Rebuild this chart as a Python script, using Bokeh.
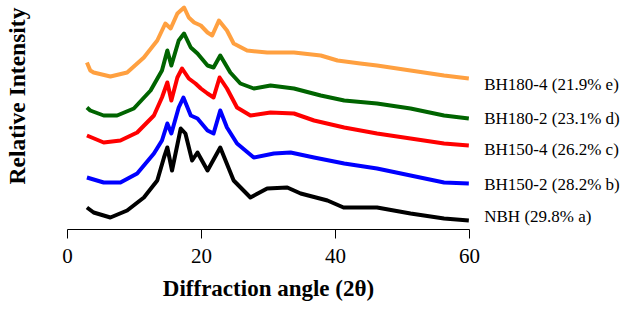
import math
from bokeh.plotting import figure
from bokeh.models import Range1d, FixedTicker, LinearAxis
from bokeh.core.properties import value
from bokeh.embed import file_html
from bokeh.resources import INLINE

# Diffraction angle (2θ) sample points and stacked relative intensities (arbitrary units, offset included)
x_e = [2.9, 3.4, 3.9, 6.4, 8.9, 11.4, 13.4, 14.6, 15.4, 16.4, 17.4, 18.1, 18.9, 19.9, 20.9, 21.6, 22.6, 23.8, 24.8, 26.8, 29.8, 33.8, 37.8, 40.3, 43.7, 46.2, 51.2, 56.2, 59.9]
y_e = [167, 159, 157, 153, 157, 172, 189, 206, 201, 216, 222, 212, 207, 204, 197, 194, 209, 199, 186, 179, 177, 177, 174, 169, 166, 164, 159, 154, 151]

x_d = [2.9, 3.4, 5.4, 7.4, 9.9, 12.4, 14.1, 14.9, 15.5, 16.6, 17.4, 18.4, 19.4, 20.9, 21.8, 22.8, 24.3, 25.8, 27.8, 30.3, 33.8, 37.8, 41.3, 46.2, 51.2, 56.2, 59.9]
y_d = [122, 119, 114, 114, 121, 139, 159, 179, 164, 189, 196, 182, 176, 164, 162, 174, 157, 146, 141, 144, 141, 134, 129, 126, 121, 114, 111]

x_c = [2.9, 5.4, 7.9, 10.4, 12.9, 14.1, 14.9, 15.5, 16.4, 17.1, 18.1, 19.1, 19.9, 20.9, 21.8, 22.7, 23.8, 25.3, 27.3, 30.3, 33.8, 36.8, 41.3, 46.2, 51.2, 56.2, 59.9]
y_c = [94, 87, 89, 97, 114, 132, 147, 129, 152, 161, 151, 146, 141, 136, 132, 152, 141, 122, 114, 117, 116, 109, 102, 96, 91, 86, 84]

x_b = [2.9, 5.4, 7.9, 10.4, 12.9, 14.1, 14.9, 15.5, 16.6, 17.3, 18.4, 19.4, 20.9, 21.8, 22.8, 23.8, 25.3, 27.8, 30.8, 33.3, 36.8, 41.3, 46.2, 51.2, 56.2, 59.9]
y_b = [52, 47, 47, 56, 76, 89, 106, 96, 122, 132, 114, 111, 99, 96, 119, 102, 86, 72, 76, 77, 72, 66, 61, 54, 47, 46]

x_a = [2.9, 3.9, 6.4, 8.9, 11.4, 13.4, 14.4, 14.9, 15.6, 16.9, 17.6, 18.6, 19.4, 20.9, 22.8, 24.8, 27.3, 29.8, 32.8, 34.8, 38.8, 41.2, 46.2, 51.2, 56.2, 59.9]
y_a = [22, 17, 12, 19, 32, 49, 72, 82, 59, 101, 96, 69, 77, 59, 82, 49, 32, 41, 42, 36, 29, 22, 22, 16, 11, 9]

series_names = ["BH180-4 (21.9% e)", "BH180-2 (23.1% d)", "BH150-4 (26.2% c)", "BH150-2 (28.2% b)", "NBH (29.8% a)"]
x_ticks = [0, 20, 40, 60]
x_title = "Diffraction angle (2θ)"
y_title = "Relative Intensity"

# layout / style constants
colors = ["#FFA040", "#006400", "#FF0000", "#0000FF", "#000000"]
label_x = [62.2] * 5
label_y = [145.5, 111.5, 80.5, 45.5, 13.5]
xs = [x_e, x_d, x_c, x_b, x_a]
ys = [y_e, y_d, y_c, y_b, y_a]
PX = 6.7  # pixels per degree
W, H = 624, 310

p = figure(width=W, height=H, output_backend="svg", toolbar_location=None,
           x_range=Range1d(-67 / PX, (W - 67) / PX), y_range=Range1d(0, 229),
           min_border_left=0, min_border_right=0, min_border_top=0, min_border_bottom=H - 229)
p.outline_line_color = None
p.xgrid.grid_line_color = None
p.ygrid.grid_line_color = None
p.yaxis.visible = False

for xv, yv, c in zip(xs, ys, colors):
    p.line(xv, yv, line_color=c, line_width=4, line_join="round")

p.text(x=label_x, y=label_y, text=series_names, text_font=value("Liberation Serif"),
       text_font_size="17px", text_baseline="middle", text_align="left", text_color="black")

p.text(x=[16.5 / PX - 67 / PX], y=[133.5], text=[y_title], angle=math.pi / 2,
       text_font=value("Liberation Serif"), text_font_size="23.5px", text_font_style="bold",
       text_baseline="middle", text_align="center", text_color="black")

ax = p.xaxis[0]
ax.ticker = FixedTicker(ticks=x_ticks)
ax.bounds = (0, 60)
ax.major_tick_in = 0
ax.major_tick_out = 9
ax.minor_tick_line_color = None
ax.axis_line_color = "black"
ax.major_tick_line_color = "black"
ax.major_label_text_font = "Liberation Serif"
ax.major_label_text_font_size = "21px"
ax.major_label_text_color = "black"
ax.major_label_standoff = 10

# axis title centred under the 0–60 span, drawn as a second (line-less) axis
mid = (x_ticks[0] + x_ticks[-1]) / 2
tax = LinearAxis(ticker=FixedTicker(ticks=[mid]), major_label_overrides={mid: x_title},
                 axis_line_color=None, major_tick_line_color=None, minor_tick_line_color=None,
                 major_tick_in=0, major_tick_out=0, major_label_standoff=10,
                 major_label_text_font="Liberation Serif", major_label_text_font_size="23px",
                 major_label_text_font_style="bold", major_label_text_color="black")
p.add_layout(tax, "below")

open("out.html", "w").write(file_html(p, INLINE))
